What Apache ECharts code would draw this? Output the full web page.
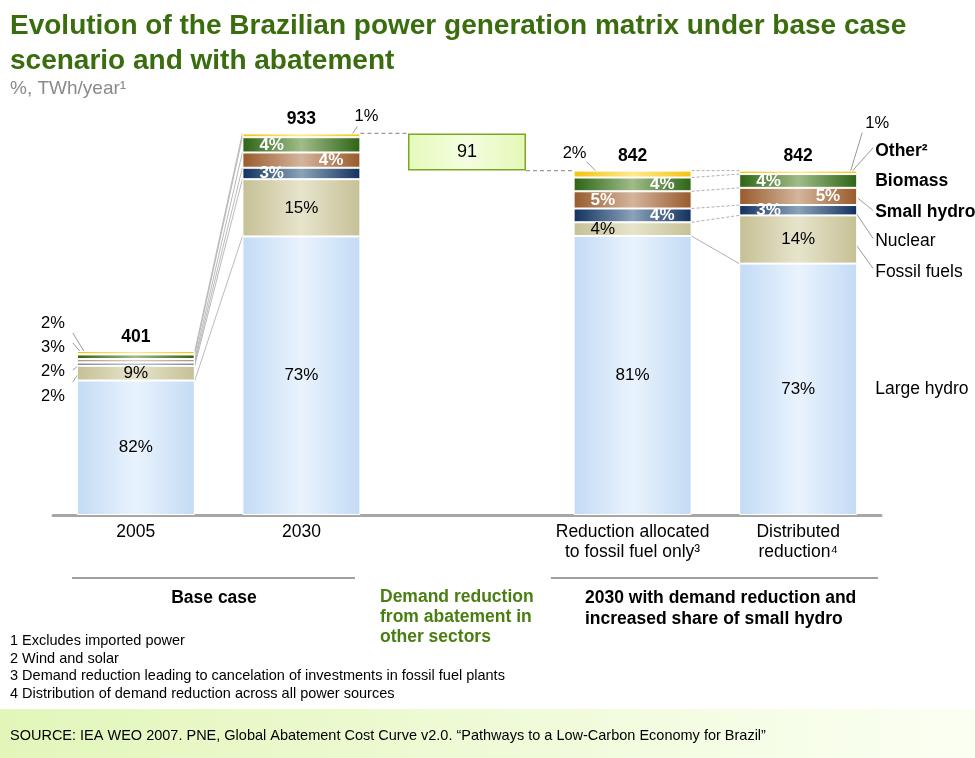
<!DOCTYPE html>
<html><head><meta charset="utf-8">
<script src="https://cdn.jsdelivr.net/npm/echarts@6/dist/echarts.min.js"></script>
<style>html,body{margin:0;padding:0;background:#fff}#c{width:975px;height:758px}</style>
</head><body><div id="c"></div>
<script>
// ---- data ----
const categories = ['2005', '2030', '', 'Reduction allocated\nto fossil fuel only³', 'Distributed\nreduction⁴'];
const totals = [401, 933, null, 842, 842];            // TWh/year
const sources = ['Large hydro', 'Fossil fuels', 'Nuclear', 'Small hydro', 'Biomass', 'Other²'];
const largeHydroPct = [82, 73, null, 81, 73];
const fossilPct     = [9, 15, null, 4, 14];
const nuclearPct    = [2, 3, null, 4, 3];
const smallHydroPct = [2, 4, null, 5, 5];
const biomassPct    = [3, 4, null, 4, 4];
const otherPct      = [2, 1, null, 2, 1];
const reducedTotal     = [null, null, 842, null, null];  // invisible base of floating bar
const demandReduction  = [null, null, 91, null, null];   // TWh removed by abatement
const pctSeries = [largeHydroPct, fossilPct, nuclearPct, smallHydroPct, biomassPct, otherPct];

// ---- styles ----
const FONT = '"Liberation Sans", Arial, sans-serif';
const palette = [
  ['#c3dbf5', '#e9f3fd'],
  ['#c5c095', '#e7e4cc'],
  ['#12305e', '#8aa3b9'],
  ['#985a2a', '#d4b59d'],
  ['#2c6415', '#a0bc88'],
  ['#f5c20f', '#feea8f']
];
const labelPos = [
  ['inside', 'inside', null, 'inside', 'inside'],
  ['inside', 'inside', null, 'insideLeft', 'inside'],
  [null, 'insideLeft', null, 'insideRight', 'insideLeft'],
  [null, 'insideRight', null, 'insideLeft', 'insideRight'],
  [null, 'insideLeft', null, 'insideRight', 'insideLeft'],
  [null, null, null, null, null]
];
const labelColor = ['#000', '#000', '#fff', '#fff', '#fff', '#000'];
const labelWeight = ['normal', 'normal', 'bold', 'bold', 'bold', 'normal'];
const BW = 118;

function grad(edge, mid) {
  return new echarts.graphic.LinearGradient(0, 0, 1, 0, [
    {offset: 0, color: edge}, {offset: 0.5, color: mid}, {offset: 1, color: edge}]);
}

const chart = echarts.init(document.getElementById('c'));

const series = sources.map((name, s) => {
  const isTop = s === sources.length - 1;
  return {
    name, type: 'bar', stack: 'total', barWidth: BW,
    itemStyle: {color: grad(palette[s][0], palette[s][1]), borderColor: '#fff', borderWidth: 1},
    label: isTop ? {show: true, position: 'top', distance: 5, fontFamily: FONT, fontSize: 17.5, fontWeight: 'bold', color: '#000',
                    formatter: p => String(totals[p.dataIndex])} : {show: false},
    data: pctSeries[s].map((p, i) => {
      if (p == null) return null;
      const pos = labelPos[s][i];
      const item = {value: totals[i] * p / 100};
      if (pos) item.label = {show: true, position: pos, distance: 17, formatter: p + '%',
        fontFamily: FONT, fontSize: 17, color: labelColor[s], fontWeight: labelWeight[s]};
      return item;
    })
  };
});
series.push({
  name: 'base', type: 'bar', stack: 'total', barWidth: BW, silent: true,
  itemStyle: {color: 'rgba(0,0,0,0)'}, data: reducedTotal
});
series.push({
  name: 'Demand reduction', type: 'bar', stack: 'total', barWidth: BW,
  itemStyle: {color: new echarts.graphic.LinearGradient(0, 0, 1, 0, [
      {offset: 0, color: '#e6fabc'}, {offset: 0.5, color: '#f4fde0'}, {offset: 1, color: '#e4f8b6'}]),
    borderColor: '#78a826', borderWidth: 1.5},
  label: {show: true, position: 'inside', fontFamily: FONT, fontSize: 18, color: '#000'},
  data: demandReduction
});

chart.setOption({
  animation: false,
  backgroundColor: '#fff',
  grid: {left: 53, right: 94, top: 106, bottom: 243},
  xAxis: {
    type: 'category', data: categories,
    axisTick: {show: false},
    axisLine: {lineStyle: {color: '#a6a6a6', width: 3}},
    axisLabel: {fontFamily: FONT, fontSize: 17.5, color: '#000', margin: 7, lineHeight: 20, interval: 0}
  },
  yAxis: {type: 'value', min: 0, max: 1000, show: false, splitLine: {show: false}},
  series
});

// ---- annotations via the chart's scales ----
const P = (i, v) => chart.convertToPixel({xAxisIndex: 0, yAxisIndex: 0}, [i, v]);
const hw = BW / 2;
function cum(i) {
  const c = [0]; let s = 0;
  pctSeries.forEach(a => { s += a[i]; c.push(totals[i] * s / 100); });
  return c;
}
const g = [];
function txt(x, y, text, opt) {
  g.push({type: 'text', x, y, silent: true,
    style: Object.assign({text, fill: '#000', font: '17.5px ' + FONT, align: 'left', verticalAlign: 'middle'}, opt || {})});
}
function line(x1, y1, x2, y2, opt) {
  g.push({type: 'line', silent: true, shape: {x1, y1, x2, y2},
    style: Object.assign({stroke: '#9a9a9a', lineWidth: 1}, opt || {})});
}

// connectors 2005 -> 2030
const c0 = cum(0), c1 = cum(1), c3 = cum(3), c4 = cum(4);
for (let k = 1; k <= 6; k++) {
  const a = P(0, c0[k]), b = P(1, c1[k]);
  line(a[0] + hw, a[1], b[0] - hw, b[1], {stroke: '#a8a8a8', lineWidth: 0.8});
}
// 2030 -> demand reduction box -> reduction bar
{
  const a = P(1, totals[1]), b = P(2, totals[1]);
  line(a[0] + hw, a[1], b[0] - hw, b[1], {lineDash: [4, 3], lineWidth: 1.2});
  const c = P(2, reducedTotal[2]), d = P(3, totals[3]);
  line(c[0] + hw, c[1], d[0] - hw, d[1], {lineDash: [4, 3], lineWidth: 1.2});
}
// reduction -> distributed
for (let k = 1; k <= 6; k++) {
  const a = P(3, c3[k]), b = P(4, c4[k]);
  line(a[0] + hw, a[1], b[0] - hw, b[1], k === 1 ? {lineWidth: 0.8} : {lineDash: [3, 2], lineWidth: 0.8});
}

// 2005 small-share labels on the left
{
  const top = P(0, totals[0]);
  const left = top[0] - hw;
  const labs = [[5, otherPct[0]], [4, biomassPct[0]], [3, smallHydroPct[0]], [2, nuclearPct[0]]];
  const ly = [-28, -4, 20, 45];
  const ls = [-18, -8, 19, 31];
  labs.forEach(([s, p], j) => {
    txt(left - 12, top[1] + ly[j], p + '%', {align: 'right', font: '16.5px ' + FONT});
    const mid = P(0, (c0[s] + c0[s + 1]) / 2)[1];
    line(left - 4, top[1] + ls[j], left + 8, mid);
  });
}
// 2030 "1%"
{
  const t = P(1, totals[1]);
  const mid = P(1, (c1[5] + c1[6]) / 2)[1];
  txt(t[0] + hw + 6, t[1] - 17, otherPct[1] + '%', {align: 'center', font: '16.5px ' + FONT});
  line(t[0] + hw - 3, t[1] - 7, t[0] + hw - 9, mid);
}
// reduction "2%"
{
  const t = P(3, totals[3]);
  const mid = P(3, (c3[5] + c3[6]) / 2)[1];
  txt(t[0] - hw + 1, t[1] - 17, otherPct[3] + '%', {align: 'center', font: '16.5px ' + FONT});
  line(t[0] - hw + 13, t[1] - 9, t[0] - hw + 25, mid);
}
// distributed: "1%" + legend labels
{
  const t = P(4, totals[4]);
  const right = t[0] + hw;
  const mid = s => P(4, (c4[s] + c4[s + 1]) / 2)[1];
  txt(right + 20, t[1] - 47, otherPct[4] + '%', {align: 'center', font: '16.5px ' + FONT});
  line(right + 5, t[1] - 38, right - 7, mid(5));
  const lx = right + 18;
  const names = ['Large hydro', 'Fossil fuels', 'Nuclear', 'Small hydro', 'Biomass', 'Other²'];
  const bold = [false, false, false, true, true, true];
  const ys = [mid(0), t[1] + 102, t[1] + 71, t[1] + 42, t[1] + 11, t[1] - 19];
  names.forEach((n, s) => txt(lx, ys[s], n, {font: (bold[s] ? 'bold ' : '') + '17.5px ' + FONT}));
  line(lx - 2, ys[5] - 4, right - 6, mid(5));
  line(right + 1, mid(3) + 2, lx - 2, ys[3] - 2);
  line(right - 1, mid(2) + 3, lx - 2, ys[2] - 3);
  line(right - 2, mid(1) + 4, lx - 2, ys[1] - 4);
}

// title, subtitle
txt(10, 26, 'Evolution of the Brazilian power generation matrix under base case', {font: 'bold 28px ' + FONT, fill: '#3a6d0d'});
txt(10, 61, 'scenario and with abatement', {font: 'bold 28px ' + FONT, fill: '#3a6d0d'});
txt(10, 89, '%, TWh/year¹', {font: '19px ' + FONT, fill: '#8a8a8a'});

// group brackets
g.push({type: 'line', silent: true, shape: {x1: 72, y1: 578, x2: 355, y2: 578}, style: {stroke: '#808080', lineWidth: 1.5}});
g.push({type: 'line', silent: true, shape: {x1: 551, y1: 578, x2: 878, y2: 578}, style: {stroke: '#808080', lineWidth: 1.5}});
txt(214, 598, 'Base case', {font: 'bold 17.5px ' + FONT, align: 'center'});
['Demand reduction', 'from abatement in', 'other sectors'].forEach((s, i) =>
  txt(380, 597 + i * 20, s, {font: 'bold 17.5px ' + FONT, fill: '#4a7d12'}));
['2030 with demand reduction and', 'increased share of small hydro'].forEach((s, i) =>
  txt(585, 598 + i * 21, s, {font: 'bold 17.5px ' + FONT}));

// footnotes
['1 Excludes imported power', '2 Wind and solar',
 '3 Demand reduction leading to cancelation of investments in fossil fuel plants',
 '4 Distribution of demand reduction across all power sources'].forEach((s, i) =>
  txt(10, 641 + i * 17.7, s, {font: '14.5px ' + FONT}));

// source band
g.push({type: 'rect', silent: true, z: -1, shape: {x: 0, y: 709, width: 975, height: 49},
  style: {fill: new echarts.graphic.LinearGradient(0, 0, 1, 0, [{offset: 0, color: '#e2f6ba'}, {offset: 1, color: '#fbfff3'}])}});
txt(10, 736, 'SOURCE: IEA WEO 2007. PNE, Global Abatement Cost Curve v2.0. “Pathways to a Low-Carbon Economy for Brazil”', {font: '14.5px ' + FONT});

chart.setOption({graphic: {elements: g}});
</script>
</body></html>
